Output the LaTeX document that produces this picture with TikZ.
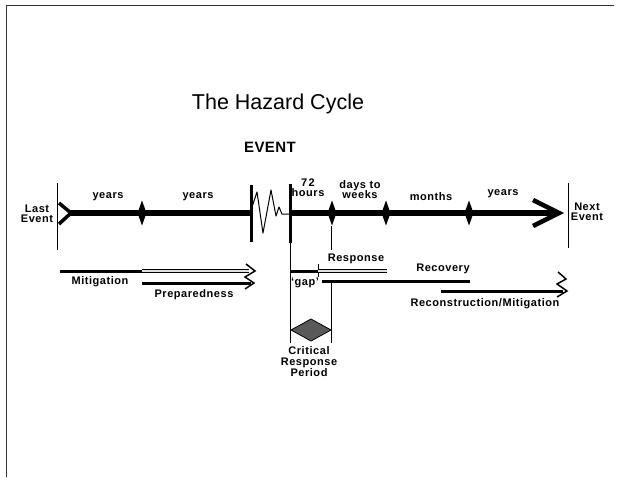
\documentclass[tikz,border=0pt]{standalone}
\usepackage{fontspec}
\setmainfont{Liberation Sans}
\newfontfamily\lblfont[LetterSpace=5]{Liberation Sans Bold}
\newfontfamily\evfont[LetterSpace=3]{Liberation Sans Bold}
\begin{document}
\begin{tikzpicture}[x=1pt,y=-1pt,
  lbl/.style={font=\lblfont\fontsize{11}{12}\selectfont, inner sep=0pt, align=center},
  axisline/.style={line width=5.5pt},
  bar/.style={line width=3pt},
  thinline/.style={line width=1pt},
  midline/.style={line width=3pt},
  hollowline/.style={line width=0.9pt, draw=black, double=black!12, double distance=1.6pt},
  headline/.style={line width=1.5pt, line join=miter},
  dmark/.pic={\fill (-4.5,0) -- (0,-12.5) -- (4.5,0) -- (0,12.5) -- cycle;}
]
\useasboundingbox (0,0) rectangle (618,477);
% frame
\draw[black!80, line width=1pt] (6,477) -- (6,5) -- (614,5);

% titles
\node[font=\fontsize{21.5}{24}\selectfont, inner sep=0pt] (title) at (278,104) {The Hazard Cycle};
\node[font=\evfont\fontsize{15}{17}\selectfont, inner sep=0pt] (event) at (270,147) {EVENT};

% key coordinates
\coordinate (lastV1) at (57,183); \coordinate (lastV2) at (57,250);
\coordinate (nextV1) at (568,183); \coordinate (nextV2) at (568,248);
\coordinate (axL) at (68,213); \coordinate (barL) at (251,213);
\coordinate (barR) at (290,213); \coordinate (axR) at (556,213);

% left axis
\draw[thinline] (lastV1) -- (lastV2);
\draw[axisline] (axL) -- (barL);
\draw[line width=3.5pt, line join=miter] (59,203) -- (71,213) -- (59,224);
\pic at (142,213) {dmark};
\draw[bar] (251,185) -- (251,242);
% seismograph
\draw[line width=1pt, line join=round] (252,207) -- (257,192) -- (263,233) -- (271,190) -- (276,216) -- (279,207) -- (282,214) -- (289,214);
% right axis
\draw[bar] (290,184) -- (290,243);
\draw[thinline] (290,243) -- (290,343);
\draw[axisline] (barR) -- (axR);
\draw[line width=4.5pt, line join=miter] (533,200) -- (559,213) -- (533,226);
\pic at (332,213) {dmark};
\pic at (386,213) {dmark};
\pic at (469,213) {dmark};
\draw[thinline] (nextV1) -- (nextV2);
\draw[thinline] (331,226) -- (331,250);

% axis labels
\node[lbl] (last) at (37,214) {Last\\[-1.5pt]Event};
\node[lbl] (next) at (587,212) {Next\\[-1.5pt]Event};
\node[lbl] (y1) at (108,197) {years};
\node[lbl] (y2) at (198,197) {years};
\node[lbl] (h72) at (308,188) {7\hspace{1.5pt}2\\[-2pt]hours};
\node[lbl] (days) at (360,190) {days to\\[-2pt]weeks};
\node[lbl] (months) at (431,197) {months};
\node[lbl] (y3) at (503,194) {years};

% mitigation / preparedness
\draw[midline] (60,271) -- (142,271);
\draw[hollowline] (142,271) -- (249,271);
\draw[midline] (142,283) -- (251,283);
\draw[headline] (246,264) -- (255,271) -- (245,277) -- (254,283) -- (245,289);
\node[lbl] (mit) at (100,282) {Mitigation};
\node[lbl] (prep) at (194,295) {Preparedness};

% response / recovery
\draw[midline] (290,271) -- (318,271);
\draw[thinline] (318,264) -- (318,277);
\draw[hollowline] (318,271) -- (387,271);
\draw[midline] (322,281) -- (470,281);
\draw[thinline] (331,281) -- (331,343);
\node[lbl] (resp) at (356,259) {Response};
\node[lbl] (rec) at (443,269) {Recovery};
\node[lbl] (gap) at (305,283) {‘gap’};

% reconstruction
\draw[midline] (441,291) -- (563,291);
\draw[headline] (558,272) -- (566,279) -- (557,284) -- (567,291) -- (557,297);
\node[lbl] (recon) at (485,304) {Reconstruction/Mitigation};

% critical response period
\filldraw[draw=black, fill=black!65, line width=0.8pt] (291,330) -- (311,319) -- (331,330) -- (311,341) -- cycle;
\node[lbl] (crit) at (309,362) {Critical\\[-1pt]Response\\[-1pt]Period};
\end{tikzpicture}
\end{document}
